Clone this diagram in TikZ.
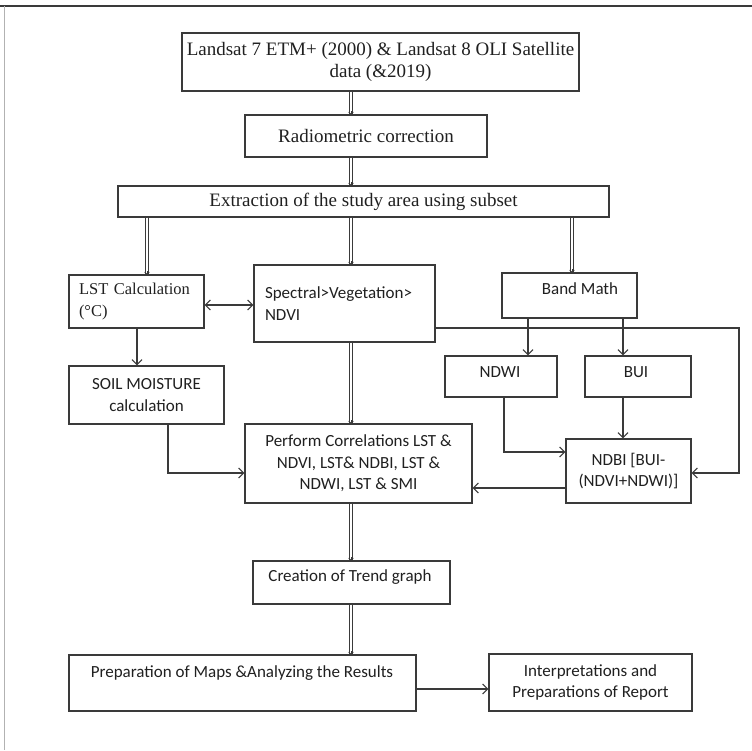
\documentclass[tikz,border=0pt]{standalone}
\usepackage{fontspec}
\setmainfont{Liberation Serif}
\newfontfamily\calfont{Carlito}
\usetikzlibrary{arrows.meta,calc}
\definecolor{ink}{HTML}{202020}
\definecolor{edge}{HTML}{3A3A3A}
\begin{document}
\begin{tikzpicture}[x=1pt,y=-1pt,
  box/.style={draw=edge, line width=1.2pt, inner sep=0pt, text=ink},
  ser/.style={font=\fontsize{19}{22}\selectfont, align=center, text=ink},
  sers/.style={font=\fontsize{16.5}{22}\selectfont, text=ink},
  sans/.style={font=\calfont\fontsize{17}{21.5}\selectfont, align=center, text=ink},
  dbl/.style={draw=edge, line width=0.8pt, double=white, double distance=1.6pt},
  dtip/.style={draw=edge, line width=0.6pt, -{Straight Barb[length=2pt,width=5pt]}},
  arr/.style={draw=edge, line width=1.1pt, -{Straight Barb[length=5pt,width=10pt]}},
  arr2/.style={draw=edge, line width=1.1pt, {Straight Barb[length=5pt,width=10pt]}-{Straight Barb[length=5pt,width=10pt]}}]
\useasboundingbox (0,0) rectangle (752,750);
\fill[white] (0,0) rectangle (752,750);
\draw[line width=2pt, edge] (0,6) -- (752,6);
\draw[line width=1.2pt, black!30] (4.5,6) -- (4.5,750);

% column / row helpers
\coordinate (x137) at (137,0);
\coordinate (x147) at (147,0);
\coordinate (x168) at (168,0);
\coordinate (x351) at (351,0);
\coordinate (x504) at (504,0);
\coordinate (x528) at (528,0);
\coordinate (x572) at (572,0);
\coordinate (x623) at (623,0);
\coordinate (x739) at (739,0);
\coordinate (y305) at (0,305);
\coordinate (y328) at (0,328);
\coordinate (y452) at (0,452);
\coordinate (y473) at (0,473);
\coordinate (y488) at (0,488);
\coordinate (y689) at (0,689);

% boxes
\node[box, ser, minimum width=397pt, minimum height=58pt] (src) at (380.5,62)
  {Landsat 7 ETM+ (2000) \& Landsat 8 OLI Satellite\\data (\&2019)};
\node[box, ser, minimum width=242pt, minimum height=42pt] (rad) at (366,136)
  {Radiometric correction};
\node[box, ser, minimum width=491pt, minimum height=31pt] (ext) at (363.5,201.5)
  {Extraction of the study area using subset};

\node[box, sers, align=left, text width=115pt, inner xsep=10pt, minimum height=53pt] (lst) at (136.5,301.5)
  {LST Calculation\\(°C)};
\node[box, sans, align=left, text width=159pt, inner xsep=11pt, minimum height=77pt] (spec) at (344.5,303.5)
  {Spectral>Vegetation>\\NDVI};
\node[box, minimum width=135pt, minimum height=45pt] (bm) at (569.5,295.5) {};
\node[sans] (bmt) at (580,289) {Band Math};

\node[box, minimum width=112pt, minimum height=41pt] (ndwi) at (501,376.5) {};
\node[sans] (ndwit) at (500,372) {NDWI};
\node[box, minimum width=106pt, minimum height=41pt] (bui) at (638,376.5) {};
\node[sans] (buit) at (636,372) {BUI};

\node[box, sans, minimum width=155pt, minimum height=58pt] (soil) at (146.5,395)
  {SOIL MOISTURE\\calculation};
\node[box, sans, minimum width=227pt, minimum height=79pt] (perf) at (358.5,463.5)
  {Perform Correlations LST \&\\NDVI, LST\& NDBI, LST \&\\NDWI, LST \& SMI};
\node[box, sans, minimum width=125pt, minimum height=64pt] (ndbi) at (628.5,471)
  {NDBI [BUI-\\(NDVI+NDWI)]};

\node[box, minimum width=197pt, minimum height=43pt] (trend) at (351.5,582.5) {};
\node[sans] (trendt) at (350,577) {Creation of Trend graph};

\node[box, minimum width=347pt, minimum height=56pt] (prep) at (242.5,683) {};
\node[sans] (prept) at (242,673) {Preparation of Maps \&Analyzing the Results};
\node[box, sans, minimum width=203pt, minimum height=57pt] (interp) at (590.5,682.5)
  {Interpretations and\\Preparations of Report};

% double connectors
\draw[dbl] (src.south -| x351) -- (rad.north -| x351);
\draw[dtip] ($(rad.north -| x351)+(0,-3)$) -- (rad.north -| x351);
\draw[dbl] (rad.south -| x351) -- (ext.north -| x351);
\draw[dtip] ($(ext.north -| x351)+(0,-3)$) -- (ext.north -| x351);
\draw[dbl] (ext.south -| x147) -- (lst.north -| x147);
\draw[dtip] ($(lst.north -| x147)+(0,-3)$) -- (lst.north -| x147);
\draw[dbl] (ext.south -| x351) -- (spec.north -| x351);
\draw[dtip] ($(spec.north -| x351)+(0,-3)$) -- (spec.north -| x351);
\draw[dbl] (ext.south -| x572) -- (bm.north -| x572);
\draw[dtip] ($(bm.north -| x572)+(0,-3)$) -- (bm.north -| x572);
\draw[dbl] (spec.south -| x351) -- (perf.north -| x351);
\draw[dtip] ($(perf.north -| x351)+(0,-3)$) -- (perf.north -| x351);
\draw[dbl] (perf.south -| x351) -- (trend.north -| x351);
\draw[dtip] ($(trend.north -| x351)+(0,-3)$) -- (trend.north -| x351);
\draw[dbl] (trend.south -| x351) -- (prep.north -| x351);
\draw[dtip] ($(prep.north -| x351)+(0,-3)$) -- (prep.north -| x351);

% single connectors
\draw[arr2] (lst.east |- y305) -- (spec.west |- y305);
\draw[arr] (lst.south -| x137) -- (soil.north -| x137);
\draw[arr] (bm.south -| x528) -- (ndwi.north -| x528);
\draw[arr] (bm.south -| x623) -- (bui.north -| x623);
\draw[arr] (bui.south -| x623) -- (ndbi.north -| x623);
\draw[arr] (ndwi.south -| x504) |- (ndbi.west |- y452);
\draw[arr] (spec.east |- y328) -| (x739 |- y473) -- (ndbi.east |- y473);
\draw[arr] (soil.south -| x168) |- (perf.west |- y473);
\draw[arr] (ndbi.west |- y488) -- (perf.east |- y488);
\draw[arr] (prep.east |- y689) -- (interp.west |- y689);
\end{tikzpicture}
\end{document}
